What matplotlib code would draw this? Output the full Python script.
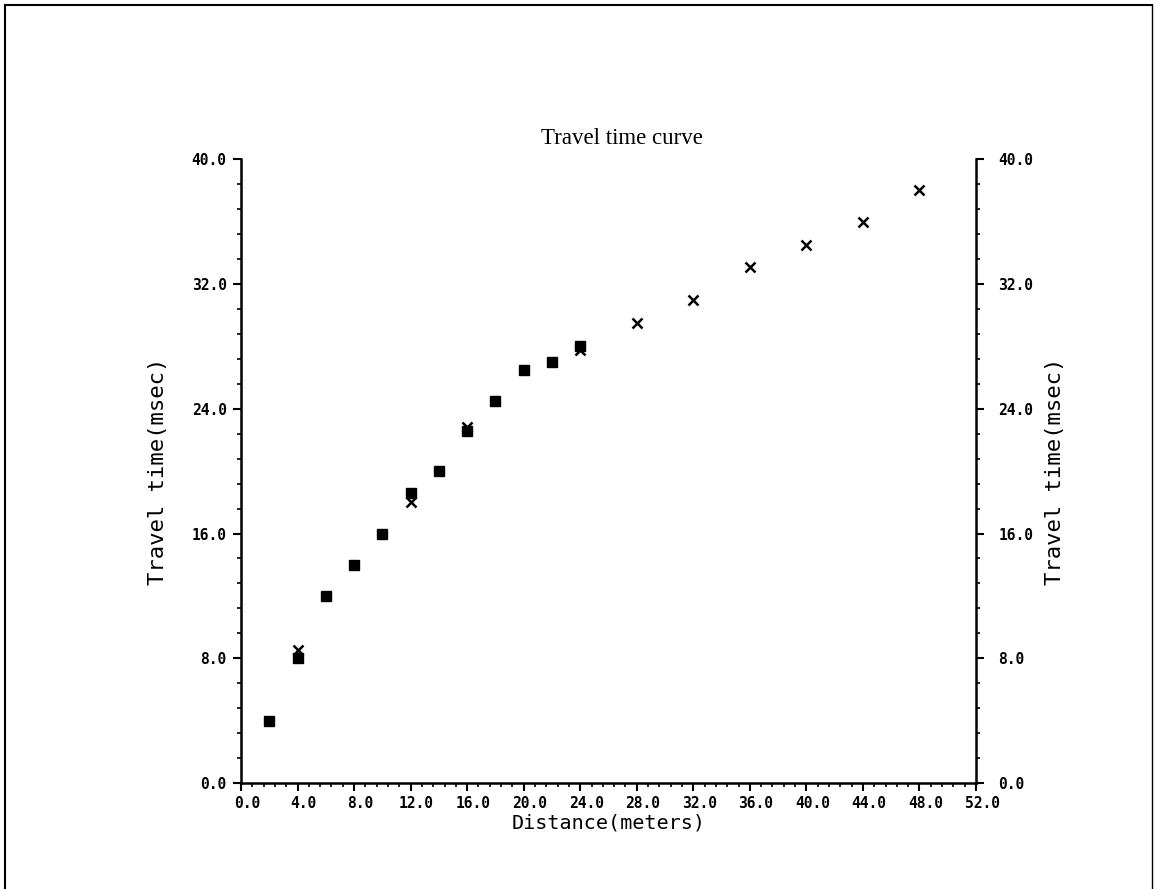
import matplotlib
matplotlib.use("Agg")
import matplotlib.pyplot as plt
import matplotlib.transforms as mtransforms
from matplotlib.lines import Line2D
from matplotlib.ticker import MultipleLocator, FormatStrFormatter

# picked geophone readings (filled squares)
dist_sq = [2, 4, 6, 8, 10, 12, 14, 16, 18, 20, 22, 24]
time_sq = [4.0, 8.0, 12.0, 14.0, 16.0, 18.6, 20.0, 22.6, 24.5, 26.5, 27.0, 28.0]

# second set of picks (crosses)
dist_x = [4, 12, 16, 24, 28, 32, 36, 40, 44, 48]
time_x = [8.5, 18.0, 22.85, 27.8, 29.5, 31.0, 33.1, 34.5, 36.0, 38.0]

title = "Travel time curve"
xlab = "Distance(meters)"
ylab = "Travel time(msec)"

mono = "DejaVu Sans Mono"

fig = plt.figure(figsize=(11.57, 8.89), dpi=100)
ax = fig.add_axes([241 / 1157, (889 - 783) / 889, 735 / 1157, (783 - 159.3) / 889])

ax.plot(dist_sq, time_sq, ls="none", marker="s", ms=7.5, color="black")
ax.plot(dist_x, time_x, ls="none", marker="x", ms=7.5, mew=1.8, color="black")

ax.set_xlim(0, 52)
ax.set_ylim(0, 40)
ax.spines["top"].set_visible(False)
for s in ["left", "right", "bottom"]:
    ax.spines[s].set_linewidth(1.8)

ax.xaxis.set_major_locator(MultipleLocator(4))
ax.xaxis.set_minor_locator(MultipleLocator(0.8))
ax.yaxis.set_major_locator(MultipleLocator(8))
ax.yaxis.set_minor_locator(MultipleLocator(1.6))
ax.xaxis.set_major_formatter(FormatStrFormatter("%.1f"))
ax.yaxis.set_major_formatter(FormatStrFormatter("%.1f"))

ax.tick_params(axis="both", which="major", direction="out", length=6, width=1.5,
               labelsize=10.5)
ax.tick_params(axis="both", which="minor", direction="out", length=3, width=1.2)
ax.tick_params(axis="y", which="both", left=True, right=True,
               labelleft=True, labelright=True, pad=4.3)
ax.tick_params(axis="x", which="both", top=False, pad=3)

for lab in ax.get_xticklabels() + ax.get_yticklabels():
    lab.set_fontfamily(mono)
    lab.set_fontweight("bold")
# plotter labels sit a bit right of their ticks
shift = mtransforms.ScaledTranslation(6 / 100, 0, fig.dpi_scale_trans)
for lab in ax.get_xticklabels():
    lab.set_transform(lab.get_transform() + shift)
rshift = mtransforms.ScaledTranslation(8 / 100, 0, fig.dpi_scale_trans)
for t in ax.yaxis.get_major_ticks():
    t.label2.set_transform(t.label2.get_transform() + rshift)

ax.set_xlabel(xlab, fontfamily=mono, fontsize=14.5, labelpad=2)
ax.set_ylabel(ylab, fontfamily=mono, fontsize=16, labelpad=17)
ax2 = ax.secondary_yaxis("right")
ax2.yaxis.set_major_locator(MultipleLocator(8))
ax2.spines["right"].set_visible(False)
ax2.tick_params(length=0, labelright=False)
ax2.set_ylabel(ylab, fontfamily=mono, fontsize=16, labelpad=50)

fig.text(622 / 1157, 1 - 138 / 889, title, ha="center", va="center",
         fontfamily="Liberation Serif", fontsize=16.5)

# page frame
fig.add_artist(Line2D([5 / 1157, 5 / 1157], [0, 1 - 5 / 889], transform=fig.transFigure,
                      color="black", lw=1.5))
fig.add_artist(Line2D([5 / 1157, 1152 / 1157], [1 - 5 / 889, 1 - 5 / 889],
                      transform=fig.transFigure, color="black", lw=1.5))
fig.add_artist(Line2D([1152 / 1157, 1152 / 1157], [0, 1 - 5 / 889],
                      transform=fig.transFigure, color="black", lw=1.0))

fig.savefig("out.png", dpi=100)
